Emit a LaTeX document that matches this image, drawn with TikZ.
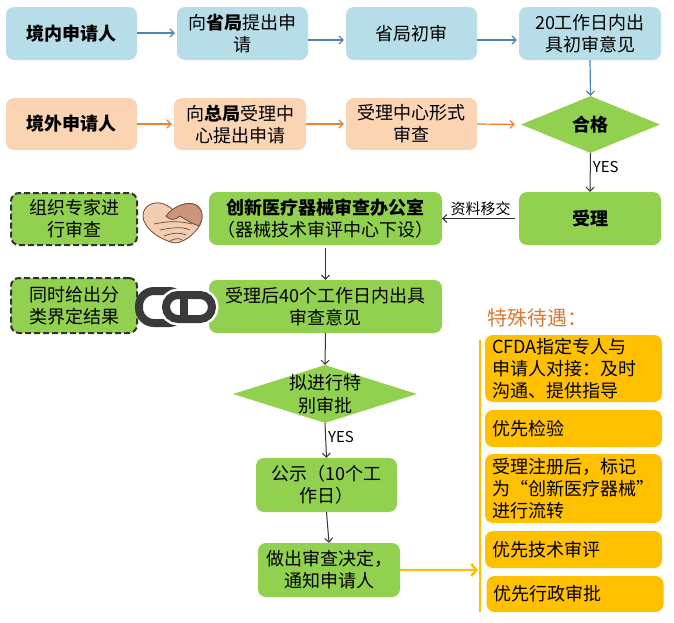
\documentclass[tikz,border=0pt]{standalone}
\usepackage{fontspec}
\setmainfont{Noto Sans CJK SC}
\usetikzlibrary{shapes.geometric,arrows.meta}
\definecolor{cBlue}{HTML}{B7DEE8}
\definecolor{cPeach}{HTML}{FBD4B4}
\definecolor{cGreen}{HTML}{92D050}
\definecolor{cOrange}{HTML}{FFC000}
\definecolor{cTitle}{HTML}{DC7832}
\definecolor{cBlueA}{HTML}{4F81BD}
\definecolor{cOrangeA}{HTML}{F07F2F}
\definecolor{cDark}{HTML}{333333}
\definecolor{cSkin}{HTML}{F2CDB2}
\definecolor{cSkinD}{HTML}{CC9478}
\definecolor{cSkinL}{HTML}{6B4A3A}
\definecolor{cChain}{HTML}{3A3A3A}
\newcommand{\bx}{\fontsize{18pt}{22pt}\selectfont}
\begin{document}
\begin{tikzpicture}[x=1pt,y=-1pt,
  box/.style={rounded corners=8pt, inner sep=2pt, align=center, font=\bx, minimum height=53pt},
  bbox/.style={box, fill=cBlue, minimum width=131pt},
  pbox/.style={box, fill=cPeach, minimum width=131pt, minimum height=52pt},
  gbox/.style={box, fill=cGreen},
  dbox/.style={box, fill=cGreen, draw=cDark, line width=2pt, dash pattern=on 6pt off 3pt, minimum width=126pt, minimum height=52pt},
  gdia/.style={diamond, fill=cGreen, inner sep=0pt},
  obox/.style={fill=cOrange, rounded corners=8pt, minimum width=177pt, text width=163pt, inner xsep=7pt, inner ysep=2pt, align=left, font=\bx},
  barrow/.style={draw=cBlueA, line width=1.2pt, -{Straight Barb[length=4pt,width=8pt]}},
  parrow/.style={draw=cOrangeA, line width=1.2pt, -{Straight Barb[length=4pt,width=8pt]}},
  karrow/.style={draw=cDark, line width=1pt, -{Straight Barb[length=4pt,width=8pt]}},
  yarrow/.style={draw=cOrange, line width=2.5pt, -{Straight Barb[length=5pt,width=12pt]}},
  lbl/.style={font=\fontsize{15pt}{17pt}\selectfont, inner sep=2pt}
]
\useasboundingbox (0,0) rectangle (674,622);
\fill[white] (0,0) rectangle (674,622);

% row 1
\node[bbox] (n1) at (71.5,33.5) {\textbf{境内申请人}};
\node[bbox] (n2) at (242.5,33.5) {向\textbf{省局}提出申\\请};
\node[bbox] (n3) at (411.5,33.5) {省局初审};
\node[bbox, minimum width=142pt] (n4) at (590,33.5) {20工作日内出\\具初审意见};
% row 2
\node[pbox] (m1) at (71.5,124) {\textbf{境外申请人}};
\node[pbox, minimum width=132pt] (m2) at (240,124) {向\textbf{总局}受理中\\心提出申请};
\node[pbox] (m3) at (411.5,124) {受理中心形式\\审查};
\node[gdia, minimum width=139pt, minimum height=57pt, font=\bx] (d1) at (590.5,124.5) {\textbf{合格}};
% row 3
\node[gbox, minimum width=142pt] (sl) at (590,218.5) {\textbf{受理}};
\node[gbox, minimum width=233pt] (cx) at (325.5,218.5) {\textbf{创新医疗器械审查办公室}\\（器械技术审评中心下设）};
\node[dbox] (zz) at (74,219) {组织专家进\\行审查};
% row 4
\node[gbox, minimum width=233pt] (sh) at (325.5,306.5) {受理后40个工作日内出具\\审查意见};
\node[dbox, minimum height=55pt] (tj) at (74,305.5) {同时给出分\\类界定结果};
% lower column
\node[gdia, minimum width=184pt, minimum height=58pt] (d2) at (325,394) {};
\node[font=\fontsize{18pt}{23pt}\selectfont, align=center, inner sep=0pt] (d2t) at (d2.center) {拟进行特\\别审批};
\node[gbox, minimum width=141pt, minimum height=54pt] (gs) at (326.5,485) {公示（10个工\\作日）};
\node[gbox, minimum width=142pt, minimum height=54pt] (zc) at (329,570) {做出审查决定，\\通知申请人};

% special treatment
\node[font=\fontsize{20pt}{24pt}\selectfont, text=cTitle, anchor=west, inner sep=0pt] (ts) at (487,318) {特殊待遇：};
\node[obox, minimum height=67pt] (oa) at (573.5,368.5) {CFDA指定专人与\\申请人对接：及时\\沟通、提供指导};
\node[obox, minimum height=37pt] (ob) at (573.5,428.5) {优先检验};
\node[obox, minimum height=69pt] (oc) at (573.5,488.5) {受理注册后，标记\\为“创新医疗器械”\\进行流转};
\node[obox, minimum height=37pt] (od) at (573.5,549.5) {优先技术审评};
\node[obox, minimum height=36pt] (oe) at (575,594) {优先行政审批};

\coordinate (vt) at (480,340);
\coordinate (vb) at (480,612);
\coordinate (va) at (478,570);
\draw[draw=cOrange, line width=2.5pt] (vt) -- (vb);
\draw[yarrow] (zc.east) -- (va);

% arrows row 1
\draw[barrow, shorten >=2pt] ([yshift=0.5pt]n1.east) -- ([yshift=0.5pt]n2.west);
\draw[barrow, shorten >=2pt] ([yshift=-6.5pt]n2.east) -- ([yshift=-6.5pt]n3.west);
\draw[barrow, shorten >=2pt] ([yshift=-6.5pt]n3.east) -- ([yshift=-6.5pt]n4.west);
\draw[barrow] (n4.south) -- (d1.north);
% arrows row 2
\draw[parrow, shorten >=2pt] (m1.east) -- (m2.west);
\draw[parrow, shorten >=2pt] (m2.east) -- (m3.west);
\draw[parrow, shorten >=6pt] (m3.east) -- (d1.west);
% main flow
\draw[karrow] (d1.south) -- node[lbl, right, pos=0.35] {YES} (sl.north);
\draw[karrow, shorten <=4pt] (sl.west) -- node[lbl, above] {资料移交} (cx.east);
\draw[karrow, shorten <=3pt] (cx.south) -- (sh.north);
\draw[karrow] (sh.south) -- (d2.north);
\draw[karrow] (d2.south) -- node[lbl, right, pos=0.4] {YES} (gs.north);
\draw[karrow] (gs.south) -- (zc.north);

% handshake icon
\filldraw[fill=cSkin, draw=cSkinL, line width=0.8pt]
  (175,243) .. controls (160,240) and (143,228) .. (143,216)
  .. controls (143,206) and (152,202) .. (160,203)
  .. controls (166,204) and (170,207) .. (173,210)
  .. controls (180,204) and (190,202) .. (196,205)
  .. controls (203,209) and (204,220) .. (198,228)
  .. controls (192,236) and (184,242) .. (175,243) -- cycle;
\filldraw[fill=cSkinD, draw=cSkinL, line width=0.8pt]
  (166,216) .. controls (174,205) and (189,201) .. (196,205)
  .. controls (203,209) and (204,219) .. (199,226)
  .. controls (193,224) and (186,220) .. (180,216)
  .. controls (176,220) and (170,221) .. (166,216) -- cycle;
\draw[cSkinL, line width=0.7pt] (160,230) .. controls (170,228) and (182,226) .. (190,230);
\draw[cSkinL, line width=0.7pt] (164,236) .. controls (172,233) and (180,232) .. (186,235);
\draw[cSkinL, line width=0.7pt] (170,241) .. controls (175,238) and (180,238) .. (182,240);
\draw[cSkinL, line width=0.7pt] (154,224) .. controls (164,222) and (176,220) .. (192,224);

% chain icon
\draw[cChain, line width=8pt, rounded corners=15pt] (139,291) rectangle (184,323);
\draw[white, line width=13pt, rounded corners=12pt] (166,295) rectangle (212,319);
\draw[cChain, line width=8pt, rounded corners=12pt] (166,295) rectangle (212,319);
\draw[white, line width=13pt] (184,300) -- (184,314);
\draw[cChain, line width=8pt] (184,298) -- (184,316);
\end{tikzpicture}
\end{document}
